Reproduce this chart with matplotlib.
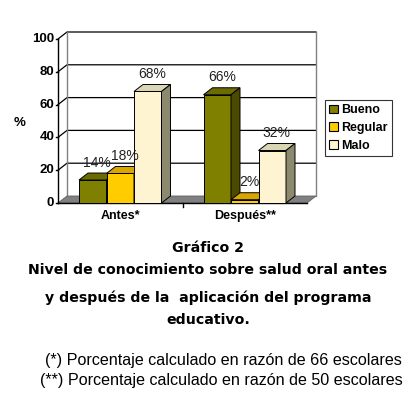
import matplotlib
matplotlib.use("Agg")
import matplotlib.pyplot as plt
from matplotlib.patches import Polygon, Rectangle, Patch
import numpy as np

categories = ["Antes*", "Después**"]
series = ["Bueno", "Regular", "Malo"]
bueno = [14, 66]
regular = [18, 2]
malo = [68, 32]
labels = [["14%", "66%"], ["18%", "2%"], ["68%", "32%"]]
yticks = [0, 20, 40, 60, 80, 100]

front_cols = ["#808000", "#ffcc00", "#fff4d2"]
top_cols = ["#6b6b00", "#d9a600", "#d9d6b4"]
side_cols = ["#4a4a00", "#9c7a00", "#8c8a6e"]

W, H = 416, 397
fig = plt.figure(figsize=(W / 100, H / 100), dpi=100)
ax = fig.add_axes([58 / W, 1 - 203 / H, 249 / W, 164 / H])
xmin, xmax = -0.5, 1.5
ax.set_xlim(xmin, xmax)
ax.set_ylim(0, 100)
ax.axis("off")

ddx = 9 / 124.5
ddy = 7 / 1.64

# walls & grid
gc = "#000000"
for yv in yticks[1:]:
    ax.plot([xmin, xmin + ddx, xmax + ddx], [yv, yv + ddy, yv + ddy], color=gc, lw=0.9, clip_on=False, zorder=1)
ax.plot([xmin + ddx, xmin + ddx], [ddy, 100 + ddy], color="#808080", lw=1, clip_on=False, zorder=1)
ax.plot([xmax + ddx, xmax + ddx], [ddy, 100 + ddy], color="#808080", lw=1, clip_on=False, zorder=1)
# floor
ax.add_patch(Polygon([[xmin, 0], [xmax, 0], [xmax + ddx, ddy], [xmin + ddx, ddy]], closed=True,
                     facecolor="#808080", edgecolor="#606060", lw=0.6, clip_on=False, zorder=2))

# y axis
ax.plot([xmin, xmin], [0, 100], color="black", lw=1, clip_on=False, zorder=3)
for yv in yticks:
    ax.plot([xmin - 0.018, xmin], [yv, yv], color="black", lw=1, clip_on=False, zorder=3)
    ax.text(xmin - 0.03, yv, str(yv), ha="right", va="center", fontsize=9.5, fontweight="bold",
            family="Liberation Sans", clip_on=False)
ax.text((20 - 58) / 249, 0.49, "%", transform=ax.transAxes, ha="center", va="center", fontsize=9.5,
        fontweight="bold", family="Liberation Sans")
# x axis
ax.plot([xmin, xmax], [0, 0], color="black", lw=1, clip_on=False, zorder=3)
ax.plot([0.5, 0.5], [0, -2.5], color="black", lw=1, clip_on=False, zorder=3)
for i, c in enumerate(categories):
    ax.text(i, -4.5, c, ha="center", va="top", fontsize=9, fontweight="bold", family="Liberation Sans")

bw = 27.5 / 124.5
vals = [bueno, regular, malo]
z = 5
for ci in range(len(categories)):
    for si in range(3):
        h = vals[si][ci]
        x0 = ci + (si - 1.5) * bw
        x1 = x0 + bw
        ax.bar(x0, h, width=bw, align="edge", color=front_cols[si], edgecolor="black", lw=0.7, zorder=z)
        ax.add_patch(Polygon([[x0, h], [x1, h], [x1 + ddx, h + ddy], [x0 + ddx, h + ddy]], closed=True,
                             facecolor=top_cols[si], edgecolor="black", lw=0.7, zorder=z, clip_on=False))
        ax.add_patch(Polygon([[x1, 0], [x1 + ddx, ddy], [x1 + ddx, h + ddy], [x1, h]], closed=True,
                             facecolor=side_cols[si], edgecolor="black", lw=0.7, zorder=z, clip_on=False))
        ax.text(x0 + bw / 2 + ddx / 2, h + ddy + 2, labels[si][ci], ha="center", va="bottom",
                fontsize=10, color="#222222", family="Liberation Sans", zorder=20)
        z += 1

handles = [Patch(facecolor=front_cols[i], edgecolor="black", lw=0.8) for i in range(3)]
leg = fig.legend(handles, series, loc="upper left", bbox_to_anchor=(325 / W, 1 - 100 / H),
                 prop={"family": "Liberation Sans", "weight": "bold", "size": 9},
                 frameon=True, fancybox=False, edgecolor="black", handlelength=0.7, handleheight=0.7,
                 handletextpad=0.2, borderpad=0.35, labelspacing=0.45, borderaxespad=0)
leg.get_frame().set_linewidth(0.8)

tf = dict(family="DejaVu Sans", fontweight="bold", fontsize=10.2, ha="center", va="center")
fig.text(208 / W, 1 - 248 / H, "Gráfico 2", **tf)
fig.text(208 / W, 1 - 270 / H, "Nivel de conocimiento sobre salud oral antes", **tf)
fig.text(208 / W, 1 - 298 / H, "y después de la  aplicación del programa", **tf)
fig.text(208 / W, 1 - 320 / H, "educativo.", **tf)
ff = dict(family="Liberation Sans", fontsize=11.6, ha="center", va="center")
fig.text(223 / W, 1 - 361 / H, "(*) Porcentaje calculado en razón de 66 escolares", **ff)
fig.text(221 / W, 1 - 381 / H, "(**) Porcentaje calculado en razón de 50 escolares", **ff)

fig.savefig("out.png", dpi=100)
